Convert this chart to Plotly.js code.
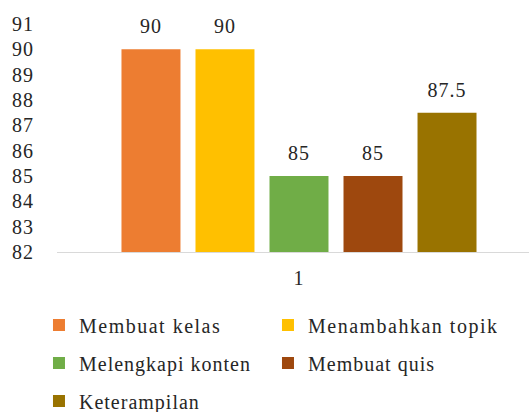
<!DOCTYPE html>
<html>
<head>
<meta charset="utf-8">
<script src="https://cdn.plot.ly/plotly-3.0.1.min.js"></script>
<style>
html,body{margin:0;padding:0;background:#fff;overflow:hidden}
#fontwarm{position:absolute;left:0;top:420px;color:#ffffff;font-family:'Liberation Serif';font-size:20px;pointer-events:none;white-space:nowrap}
svg text{font-family:'Liberation Serif', serif !important;letter-spacing:1px}
svg text.legendtext{letter-spacing:1.5px}
</style>
</head>
<body>
<div id="chart" style="width:529px;height:412px"></div>
<div id="fontwarm">Membuat kelas 0123456789.</div>
<script>
const categories = ['1'];
const seriesNames = ['Membuat kelas', 'Menambahkan topik', 'Melengkapi konten', 'Membuat quis', 'Keterampilan'];
const seriesValues = [[90], [90], [85], [85], [87.5]];
const seriesColors = ['#ED7D31', '#FFC000', '#70AD47', '#9E480E', '#997300'];
const legendIds = ['legend', 'legend', 'legend2', 'legend2', 'legend3'];
const yTicks = [82, 83, 84, 85, 86, 87, 88, 89, 90, 91];

const FONT = 'Liberation Serif';
const TXT = '#262626';
const pad = '<span style="font-size:58px">\u00A0</span>';

const traces = seriesNames.map((name, i) => ({
  type: 'bar',
  name: name,
  x: categories,
  y: seriesValues[i],
  marker: {color: seriesColors[i]},
  text: seriesValues[i].map(v => pad + String(v) + pad),
  textposition: 'outside',
  constraintext: 'none',
  textfont: {family: FONT, size: 20, color: TXT},
  cliponaxis: false,
  legend: legendIds[i],
  showlegend: true,
  hoverinfo: 'name+y'
}));

const legendBase = {
  visible: true,
  xref: 'container', yref: 'container',
  x: 0.0737, xanchor: 'left', yanchor: 'middle',
  orientation: 'h',
  entrywidth: 184, entrywidthmode: 'pixels',
  bgcolor: 'rgba(0,0,0,0)', borderwidth: 0,
  font: {family: FONT, size: 20, color: TXT},
  traceorder: 'normal'
};

const layout = {
  width: 529, height: 412,
  margin: {l: 57, r: 0, t: 24, b: 160, pad: 0},
  paper_bgcolor: '#ffffff', plot_bgcolor: '#ffffff',
  barmode: 'group',
  bargap: 0.216,
  bargroupgap: 0.203,
  showlegend: true,
  font: {family: FONT, size: 20, color: TXT},
  xaxis: {
    type: 'category',
    range: [-0.5127, 0.4873],
    showline: true, linecolor: '#d9d9d9', linewidth: 1,
    showgrid: false, zeroline: false, ticks: '',
    ticklabelstandoff: 8,
    tickfont: {family: FONT, size: 20, color: TXT},
    automargin: false, fixedrange: true
  },
  yaxis: {
    range: [82, 91],
    tickmode: 'array', tickvals: yTicks, ticktext: yTicks.map(String),
    showline: false, showgrid: false, zeroline: false, ticks: '',
    ticklabelstandoff: 22,
    tickfont: {family: FONT, size: 20, color: TXT},
    automargin: false, fixedrange: true
  },
  legend: Object.assign({}, legendBase, {y: 0.211}),
  legend2: Object.assign({}, legendBase, {y: 0.119}),
  legend3: Object.assign({}, legendBase, {y: 0.027})
};

const config = {displayModeBar: false, staticPlot: true};
Plotly.newPlot('chart', traces, layout, config);
if (document.fonts && document.fonts.ready) {
  document.fonts.ready.then(() => Plotly.react('chart', traces, layout, config));
}
</script>
</body>
</html>
